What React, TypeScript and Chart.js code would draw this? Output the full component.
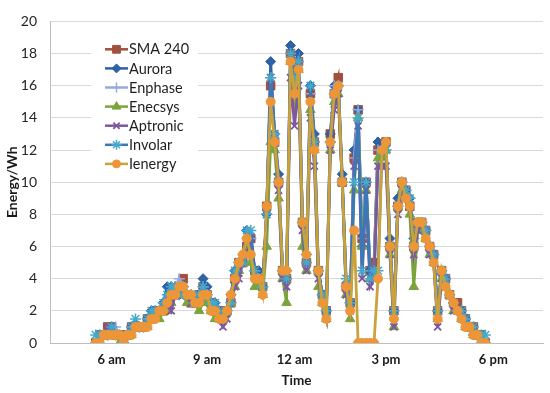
import React, { useEffect, useRef } from 'react';
import { Chart, registerables } from 'chart.js';
import { drawPoint } from 'chart.js/helpers';

Chart.register(...registerables);

const seriesNames = ['SMA 240', 'Aurora', 'Enphase', 'Enecsys', 'Aptronic', 'Involar', 'Ienergy'];

// x axis: sample slots (category-like), first recorded sample slot and tick labels
const SAMPLE_SLOTS = 124;
const FIRST_SAMPLE = 11;
const tickSamples = [15, 39, 61, 84, 111];
const tickLabels = ['6 am', '9 am', '12 am', '3 pm', '6 pm'];

const sma240 = [
  0, 0.5, 0.5, 1, 1, 0.5, 0.5, 0, 0.5, 1,
  1, 1, 1, 1.5, 1.5, 2, 2, 2, 2.5, 3,
  3, 3.5, 4, 3, 2.5, 2.5, 3, 3.5, 3, 2.5,
  2, 2, 1.5, 2, 2.5, 4, 5, 5, 6, 6.5,
  4.5, 4, 3.5, 8.5, 16, 12.5, 10, 4.5, 4, 18,
  16, 17.5, 7.5, 5, 15.5, 12.5, 4.5, 3, 2, 13,
  15.5, 16.5, 10, 3.5, 2.5, 11.5, 14.5, 6.5, 10, 4.5,
  5, 12, 12, 12.5, 6, 2, 8.5, 10, 9.5, 8.5,
  6, 7.5, 7.5, 7, 6, 5.5, 2, 4.5, 4, 3,
  2.5, 2.5, 2, 1.5, 1, 1, 0.5, 0.5, 0,
];
const aurora = [
  0, 0.5, 0.5, 0.5, 1, 0.5, 0.5, 0, 0.5, 1,
  1, 1, 1, 1.5, 2, 2, 2, 2.5, 3.5, 3.5,
  3.5, 3, 3.5, 3, 3, 2.5, 3, 4, 3.5, 2.5,
  2.5, 2, 1.5, 2, 3, 4.5, 5, 5, 7, 6.5,
  4.5, 4.5, 3.5, 8, 17.5, 13, 10.5, 4.5, 4.5, 18.5,
  16.5, 18, 7.5, 5.5, 16, 13, 4.5, 3, 2, 13,
  16, 16, 10.5, 3.5, 2.5, 12, 14.5, 6, 10, 4.5,
  4.5, 12.5, 12, 12.5, 6.5, 2, 9, 10, 9.5, 9,
  6.5, 7.5, 7.5, 7, 6, 5.5, 2, 4.5, 4, 3,
  2.5, 2, 2, 1.5, 1, 0.5, 0.5, 0.5, 0,
];
const enphase = [
  0, 0.5, 0.5, 0.5, 1, 1, 0.5, 0, 0.5, 1,
  1, 1, 1, 1.5, 1.5, 2, 2, 2.5, 2.5, 3,
  3.5, 4, 3.5, 3, 2.5, 2.5, 3, 3.5, 3, 2.5,
  2, 2, 1.5, 2, 2.5, 4, 5, 5.5, 6.5, 6.5,
  4.5, 4, 3.5, 8, 16.5, 13, 10, 4.5, 4, 18,
  16.5, 17.5, 7.5, 5, 15.5, 12.5, 4.5, 3, 2, 12.5,
  16, 16, 10, 3.5, 2.5, 11.5, 14.5, 6.5, 10, 4.5,
  4.5, 12, 12, 12, 6, 2, 8.5, 10, 9.5, 9,
  6, 7.5, 7.5, 7, 6, 5.5, 2, 4.5, 4, 3,
  2.5, 2, 2, 1.5, 1, 1, 0.5, 0, 0,
];
const enecsys = [
  0, 0, 0.5, 0.5, 0.5, 0.5, 0, 0, 0.5, 0.5,
  1, 1, 1, 1, 1.5, 1.5, 1.5, 2, 2, 2.5,
  3, 3, 3, 2.5, 2.5, 2.5, 2, 2.5, 2.5, 2,
  1.5, 1.5, 1.5, 2, 2.5, 3.5, 4.5, 5, 6, 5,
  3.5, 3.5, 3, 6, 12.5, 12, 9, 4, 2.5, 17.5,
  15, 17, 6, 4.5, 14.5, 12, 3.5, 2.5, 1.5, 12,
  15, 15.5, 10, 3, 1.5, 9.5, 14, 6, 9.5, 4,
  4, 11.5, 11.5, 12, 5.5, 1, 8.5, 9.5, 9, 8,
  3.5, 7, 7, 6.5, 5.5, 5, 1.5, 4, 3.5, 3,
  2, 2, 1.5, 1, 1, 0.5, 0.5, 0, 0,
];
const aptronic = [
  0, 0.5, 0.5, 1, 1, 0.5, 0.5, 0, 0.5, 1,
  1, 1, 1, 1.5, 1.5, 2, 2, 2, 2.5, 2,
  3, 3, 3.5, 3, 2.5, 2.5, 3, 3, 3, 2,
  2, 1.5, 1, 1.5, 2.5, 3.5, 4, 5, 5.5, 6.5,
  4, 4, 3.5, 8, 16.5, 13, 9.5, 4, 3.5, 16.5,
  13.5, 16, 7, 4.5, 14, 11, 4, 2.5, 1.5, 12,
  14.5, 15.5, 10, 3, 2, 11, 13.5, 4, 9.5, 3.5,
  4, 11, 11, 11, 5.5, 1, 8, 9.5, 9.5, 8.5,
  5.5, 7, 7.5, 6.5, 5.5, 5, 1, 4, 3.5, 3,
  2, 2, 1.5, 1, 1, 0.5, 0.5, 0, 0,
];
const involar = [
  0.5, 0.5, 0.5, 0.5, 1, 0.5, 0.5, 0, 0.5, 1,
  1.5, 1, 1, 1.5, 2, 2, 2, 2.5, 3, 3.5,
  3.5, 3, 3.5, 3, 3, 2.5, 3, 3.5, 3, 2.5,
  2.5, 2, 1.5, 2, 2.5, 4.5, 5, 5, 7, 7,
  4.5, 4, 3.5, 8, 16.5, 13, 10, 4.5, 4, 18,
  16.5, 17.5, 7.5, 5, 16, 12.5, 4.5, 3, 2, 12.5,
  15.5, 16, 10, 4, 2.5, 10, 14, 4.5, 10, 4,
  4.5, 4.5, 12, 12, 6, 2, 8.5, 10, 9.5, 9,
  6, 7.5, 7.5, 7, 6, 5.5, 2, 4.5, 4, 3,
  2.5, 2, 2, 1.5, 1, 1, 0.5, 0.5, 0.5,
];
const ienergy = [
  0, 0, 0.5, 0.5, 0.5, 0.5, 0.5, 0, 0.5, 0.5,
  1, 1, 1, 1, 1.5, 1.5, 2, 2, 2.5, 3,
  3, 3.5, 3.5, 3, 3, 2.5, 2.5, 3, 3, 2,
  2, 1.5, 1.5, 2, 3, 4, 5, 5.5, 6.5, 5.5,
  4, 4, 3, 8.5, 15, 12.5, 10, 4.5, 4.5, 17.5,
  15.5, 17, 7.5, 5.5, 15, 12, 4.5, 2.5, 1.5, 12.5,
  15.5, 16, 10, 3.5, 2, 7, 0, 0, 0, 0,
  0, 4, 12, 12.5, 6, 1.5, 8.5, 10, 9, 8.5,
  6, 7.5, 7.5, 6.5, 6, 5, 1.5, 4.5, 3.5, 3,
  2.5, 2, 1.5, 1, 1, 0.5, 0.5, 0, 0,
];

const seriesValues = [sma240, aurora, enphase, enecsys, aptronic, involar, ienergy];

const lineColors = ['#A0503C', '#2E62A6', '#98AADB', '#7BA43C', '#7D58A0', '#3A78B8', '#C9A23C'];
const markerColors = ['#A0503C', '#2E62A6', '#98AADB', '#7BA43C', '#7D58A0', '#46A8CA', '#EC9638'];
const markerStyles = ['rect', 'rectRot', 'cross', 'triangle', 'crossRot', 'star', 'circle'];
const markerRadius = [6, 5, 5.5, 5.5, 5, 5.5, 4.5];
const markerBorder = [1, 1, 1.5, 1, 1.8, 1.5, 1];

const FONT = 'Lato, "Open Sans", sans-serif';

const insideLegend = {
  id: 'insideLegend',
  afterDraw(chart: any) {
    const ctx = chart.ctx;
    ctx.save();
    ctx.fillStyle = '#ffffff';
    ctx.fillRect(91, 37, 107, 136);
    chart.data.datasets.forEach((ds: any, i: number) => {
      const y = 49.3 + i * 19.1;
      ctx.strokeStyle = ds.borderColor;
      ctx.lineWidth = 2.5;
      ctx.beginPath();
      ctx.moveTo(105, y);
      ctx.lineTo(128, y);
      ctx.stroke();
      ctx.fillStyle = ds.pointBackgroundColor;
      ctx.strokeStyle = ds.pointBorderColor;
      ctx.lineWidth = ds.pointBorderWidth;
      drawPoint(ctx, { pointStyle: ds.pointStyle, radius: ds.pointRadius - 0.5, rotation: 0, borderWidth: ds.pointBorderWidth }, 116.5, y);
      ctx.fillStyle = '#1f1f1f';
      ctx.font = '14.5px ' + FONT;
      ctx.textBaseline = 'middle';
      ctx.textAlign = 'left';
      ctx.fillText(seriesNames[i], 129, y + 0.5);
    });
    ctx.restore();
  },
};

export default function App() {
  const ref = useRef<HTMLCanvasElement | null>(null);
  useEffect(() => {
    if (!ref.current) return;
    const datasets = seriesNames.map((name, i) => ({
      label: name,
      data: seriesValues[i].map((v, k) => ({ x: FIRST_SAMPLE + k, y: v })),
      borderColor: lineColors[i],
      backgroundColor: markerColors[i],
      pointBackgroundColor: markerColors[i],
      pointBorderColor: markerColors[i],
      pointBorderWidth: markerBorder[i],
      pointStyle: markerStyles[i],
      pointRadius: markerRadius[i],
      borderWidth: 2.8,
      tension: 0,
      order: seriesNames.length - 1 - i,
    }));
    const chart = new Chart(ref.current, {
      type: 'line',
      data: { datasets },
      plugins: [insideLegend],
      options: {
        animation: false,
        responsive: true,
        maintainAspectRatio: false,
        layout: { padding: { top: 10, right: 3, left: 0, bottom: 0 } },
        plugins: { legend: { display: false }, tooltip: { enabled: false } },
        scales: {
          x: {
            type: 'linear',
            min: -0.5,
            max: SAMPLE_SLOTS - 0.5,
            grid: { display: false, drawTicks: false },
            border: { display: true, color: '#BFBFBF', width: 1 },
            afterBuildTicks: (scale: any) => {
              scale.ticks = tickSamples.map((v) => ({ value: v }));
            },
            afterFit: (scale: any) => {
              scale.height = 50;
            },
            ticks: {
              autoSkip: false,
              maxRotation: 0,
              padding: 9,
              color: '#1a1a1a',
              font: { family: FONT, size: 13, weight: 'bold' },
              callback: (value: any) => {
                const idx = tickSamples.indexOf(Number(value));
                return idx >= 0 ? tickLabels[idx] : '';
              },
            },
            title: {
              display: true,
              text: 'Time',
              color: '#1a1a1a',
              font: { family: FONT, size: 13.5, weight: 'bold' },
              padding: { top: 0, bottom: 4 },
            },
          },
          y: {
            min: 0,
            max: 20,
            grid: { color: '#D9D9D9', drawTicks: false, lineWidth: 1 },
            border: { display: true, color: '#BFBFBF', width: 1 },
            afterFit: (scale: any) => {
              scale.width = 50;
            },
            ticks: {
              stepSize: 2,
              padding: 13,
              color: '#262626',
              font: { family: FONT, size: 14 },
            },
            title: {
              display: true,
              text: 'Energy/Wh',
              color: '#1a1a1a',
              font: { family: FONT, size: 14, weight: 'bold' },
              padding: { top: 4, bottom: 0 },
            },
          },
        },
      },
    });
    return () => chart.destroy();
  }, []);
  return (
    <div style={{ position: 'fixed', left: 0, top: 0, width: 550, height: 393, background: '#ffffff' }}>
      <canvas ref={ref} />
    </div>
  );
}
